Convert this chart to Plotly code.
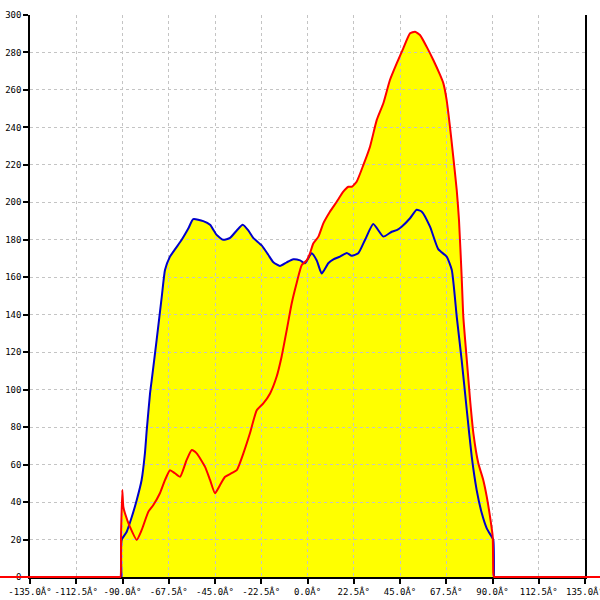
import plotly.graph_objects as go

# ---- data ----
blue_angle = [-90.5, -90.4, -88.0, -85.5, -83.1, -80.7, -79.1, -78.2, -76.6, -75.8, -73.4, -70.9,
              -69.3, -66.9, -61.2, -58.0, -55.6, -50.7, -47.4, -44.2, -41.0, -37.7, -34.4, -31.5,
              -28.8, -26.4, -22.3, -19.1, -16.6, -13.4, -10.1, -6.9, -3.6, -1.2, 2.0, 4.5, 6.9,
              10.1, 12.6, 15.8, 19.1, 21.5, 24.7, 28.0, 32.0, 36.9, 41.0, 43.4, 45.8, 49.9, 53.1,
              55.6, 59.6, 63.6, 67.7, 70.2, 72.6, 75.0, 77.5, 79.9, 82.3, 84.8, 87.2, 89.6, 90.4, 90.7]
blue_value = [0, 19.8, 24, 32, 41, 51.8, 66, 78.5, 98, 105, 126.5, 149.6,
              164, 171, 180, 186, 191, 190, 188, 182.6, 180, 181, 185, 188,
              185, 181, 177, 172, 168, 166, 168, 169.6, 169, 167.5, 172.8, 169, 162,
              167.5, 169.6, 171, 173, 171.5, 172.8, 180, 188.4, 181.7, 184.3, 185.2, 187, 191.5, 196,
              195, 187, 175, 171, 163.9, 139, 115.8, 89, 64.2, 46.4, 34, 26, 21.5, 19.8, 0]

red_angle = [-180, -150, -120, -100, -93, -91.5, -91.0, -90.7, -90.1, -89.6, -88.8, -86.4, -83.1,
             -80.7, -77.4, -75.0, -71.8,
             -69.3, -66.9, -64.5, -62.0, -58.8, -56.3, -53.9, -49.9, -47.4, -45.0, -42.6, -40.1,
             -36.9, -34.4, -31.2, -28.0, -24.7, -21.5, -18.2, -15.0, -12.6, -10.1, -7.7, -5.3,
             -2.8, -0.4, 1.2, 2.8, 5.3, 7.7, 10.9, 14.2, 17.4, 19.9, 21.5, 23.9, 27.2, 30.4, 33.7,
             36.9, 40.1, 43.4, 46.6, 49.9, 52.3, 54.7, 58.0, 61.2, 64.5, 66.1, 67.7, 69.3, 70.9,
             72.6, 73.7, 75.0, 75.8, 77.5, 79.1, 80.7, 83.1, 85.5, 87.2, 88.8, 90.1, 90.4, 90.7,
             91.2, 93, 100, 120, 150, 180]
red_value = [0, 0, 0, 0, 0, 0, 0, 23, 46.4, 37.5, 34, 26.8, 19.8,
             25, 34.9, 38.4, 44.7,
             51.8, 57, 55.4, 53.5, 62.5, 67.8, 66, 58.9, 51.8, 44.7, 49, 53.5,
             55.4, 57, 66, 76.7, 89, 92.7, 98, 107, 117.6, 131.8, 146, 156.8,
             166.5, 169, 172.8, 178, 181.7, 188.8, 195, 200.3, 205.7, 208.3, 208.3, 211, 220, 229.7, 244,
             252.9, 265.3, 274.2, 282.2, 290.2, 291.1, 289.3, 283, 276, 268, 263.5, 254.6, 240.4, 224.4,
             206.6, 190.6, 160.3, 139, 115.8, 94.5, 76.7, 60.7, 51.8, 42.9, 32.2, 21.5, 2, 0,
             0, 0, 0, 0, 0, 0]

x_ticks = [-135.0, -112.5, -90.0, -67.5, -45.0, -22.5, 0.0, 22.5, 45.0, 67.5, 90.0, 112.5, 135.0]
x_ticklabels = [f"{v:.1f}\u00c2\u00b0" for v in x_ticks]
y_ticks = list(range(0, 301, 20))

# ---- geometry (pixels of a 600x600 page) ----
W = H = 600
PL, PR, PT, PB = 30, 585, 15, 577          # plot frame
x_lo, x_hi = x_ticks[0], x_ticks[-1]
y_lo, y_hi = 0, 300
dx = (x_hi - x_lo) / (PR - PL)
dy = (y_hi - y_lo) / (PB - PT)
full_x = [x_lo - PL * dx, x_hi + (W - PR) * dx]
full_y = [y_lo - (H - PB) * dy, y_hi + PT * dy]

YELLOW = "#ffff00"
BLUE = "#0000cc"
RED = "#ff0000"
FONT = dict(family="DejaVu Sans Mono", size=9, color="#000000")
SMOOTH = 0.5

fig = go.Figure()

# fills (bottom subplot)
fig.add_trace(go.Scatter(x=blue_angle, y=blue_value, mode="lines", fill="tozeroy",
                         fillcolor=YELLOW, line=dict(width=0, color=YELLOW, shape="spline", smoothing=SMOOTH),
                         xaxis="x", yaxis="y", hoverinfo="skip", showlegend=False))
fig.add_trace(go.Scatter(x=red_angle, y=red_value, mode="lines", fill="tozeroy",
                         fillcolor=YELLOW, line=dict(width=0, color=YELLOW, shape="spline", smoothing=SMOOTH),
                         xaxis="x", yaxis="y", hoverinfo="skip", showlegend=False))

# axes / grid subplot (holds only an empty placeholder trace)
fig.add_trace(go.Scatter(x=[x_lo, x_hi], y=[None, None], mode="lines",
                         xaxis="x2", yaxis="y2", hoverinfo="skip", showlegend=False))

# lines (top subplot, full width so the zero line runs to the page edges)
fig.add_trace(go.Scatter(x=blue_angle, y=blue_value, mode="lines",
                         line=dict(width=2, color=BLUE, shape="spline", smoothing=SMOOTH),
                         xaxis="x3", yaxis="y3", showlegend=False))
fig.add_trace(go.Scatter(x=red_angle, y=red_value, mode="lines",
                         line=dict(width=2, color=RED, shape="spline", smoothing=SMOOTH),
                         xaxis="x3", yaxis="y3", showlegend=False))

hidden = dict(visible=False, fixedrange=True, showgrid=False, zeroline=False)

fig.update_layout(
    template="none",
    width=W, height=H,
    margin=dict(l=0, r=0, t=0, b=0),
    paper_bgcolor="#ffffff",
    plot_bgcolor="rgba(0,0,0,0)",
    showlegend=False,
    xaxis=dict(domain=[0, 1], range=full_x, anchor="y", **hidden),
    yaxis=dict(domain=[0, 1], range=full_y, anchor="x", **hidden),
    xaxis3=dict(domain=[0, 1], range=full_x, anchor="y3", **hidden),
    yaxis3=dict(domain=[0, 1], range=full_y, anchor="x3", **hidden),
    xaxis2=dict(domain=[PL / W, PR / W], range=[x_lo, x_hi], anchor="y2",
                tickmode="array", tickvals=x_ticks, ticktext=x_ticklabels,
                ticks="outside", ticklen=5, tickwidth=1.5, tickcolor="#000000",
                showline=True, linecolor="#000000", linewidth=1.5,
                showgrid=True, gridcolor="#c4c4c4", gridwidth=1, griddash="3px,3px",
                zeroline=False, tickfont=FONT, automargin=False, fixedrange=True,
                ticklabeloverflow="allow", layer="below traces"),
    yaxis2=dict(domain=[(H - PB) / H, (H - PT) / H], range=[y_lo, y_hi], anchor="x2",
                tickmode="array", tickvals=y_ticks, ticktext=[str(v) for v in y_ticks],
                ticks="outside", ticklen=5, tickwidth=1.5, tickcolor="#000000",
                showline=True, mirror=True, linecolor="#000000", linewidth=1.5,
                showgrid=True, gridcolor="#c4c4c4", gridwidth=1, griddash="3px,3px",
                zeroline=False, tickfont=FONT, automargin=False, fixedrange=True,
                ticklabeloverflow="allow", layer="below traces"),
)

fig.write_html("out.html", config={"displayModeBar": False},
               post_script="document.body.style.margin='0';")
